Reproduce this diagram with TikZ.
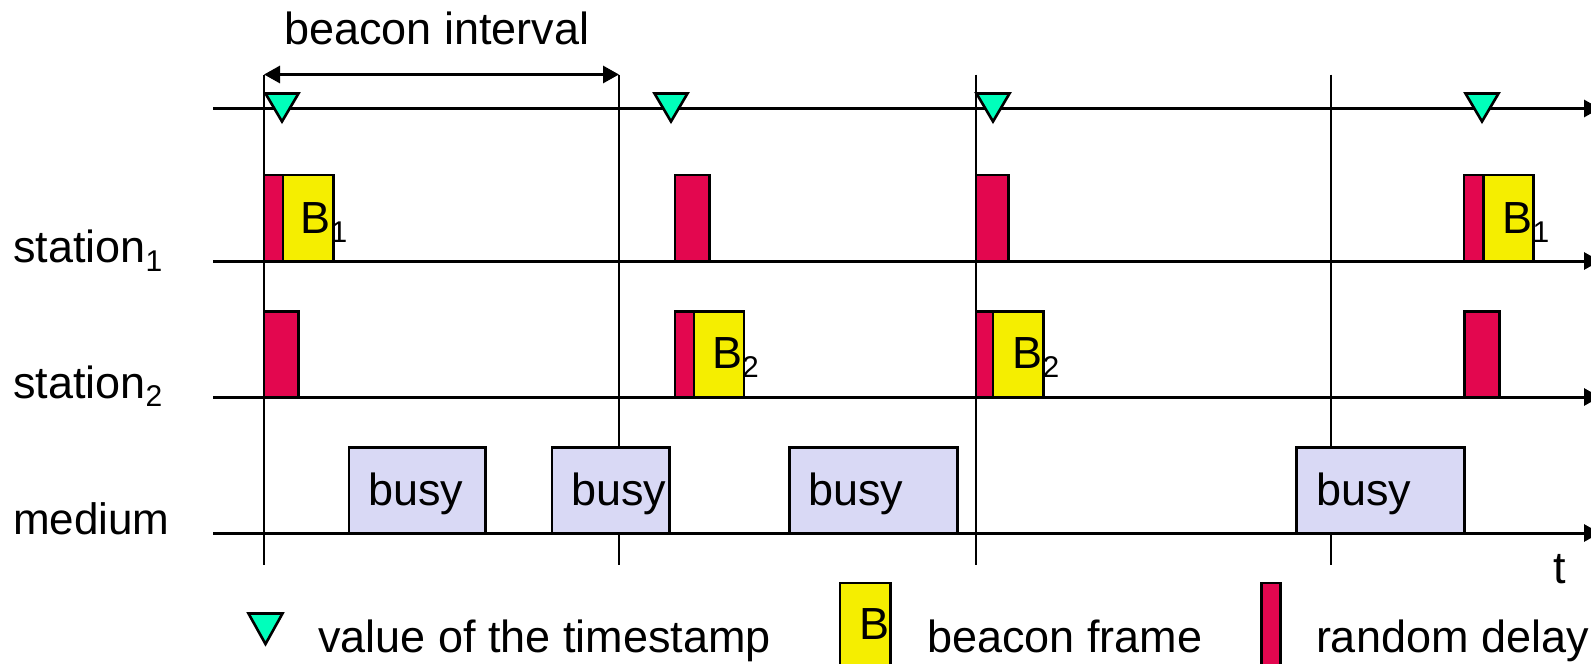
\documentclass[tikz,border=0pt]{standalone}
\usepackage{fontspec}
\setmainfont{Liberation Sans}
\usetikzlibrary{arrows.meta}
\definecolor{redd}{HTML}{E3074F}
\definecolor{yell}{HTML}{F5EE00}
\definecolor{lav}{HTML}{D9D9F5}
\definecolor{spring}{HTML}{00FFBB}
\newcommand{\bigtxt}{\fontsize{45}{50}\selectfont}
\newcommand{\subtxt}[1]{\raisebox{-8.5pt}{\fontsize{30}{30}\selectfont #1}}
\tikzset{
  axis/.style={line width=3pt,-{Triangle[length=16pt,width=17pt]}},
  vline/.style={line width=2.4pt},
  span/.style={line width=3pt,{Triangle[length=16pt,width=17pt]}-{Triangle[length=16pt,width=17pt]}},
  boxbase/.style={draw=black,line width=2.9pt,anchor=north west,inner sep=0pt,outer sep=0pt},
  delaybox/.style={boxbase,fill=redd},
  framebox/.style={boxbase,fill=yell},
  busybox/.style={boxbase,fill=lav},
  tri/.style={draw=black,fill=spring,line width=2.6pt,line join=miter},
  txt/.style={anchor=base west,inner sep=0pt,outer sep=0pt,text=black,font=\bigtxt},
}
\begin{document}
\begin{tikzpicture}[x=1pt,y=-1pt]
\useasboundingbox (0,0) rectangle (1591,664);
% axes
\foreach \n/\y in {ts/108.5,sa/261,sb/397,me/533}{
  \coordinate (\n L) at (213,\y);
  \coordinate (\n R) at (1600,\y);
  \draw[axis] (\n L) -- (\n R);
}
% vertical tick lines
\foreach \n/\x in {a/264,b/619,c/976,d/1331}{
  \coordinate (\n T) at (\x,74.5);
  \coordinate (\n B) at (\x,565);
  \draw[vline] (\n T) -- (\n B);
}
% beacon interval span
\draw[span] (aT) -- (bT);
\node[txt] (interval) at (284,44) {beacon interval};
% station 1 boxes
\node[delaybox,minimum width=19pt,minimum height=86pt] (r1) at (264,175) {};
\node[framebox,minimum width=50.5pt,minimum height=86pt] (f1) at (283,175) {};
\node[delaybox,minimum width=34.5pt,minimum height=86pt] (r2) at (675,175) {};
\node[delaybox,minimum width=32.5pt,minimum height=86pt] (r3) at (976,175) {};
\node[delaybox,minimum width=19.5pt,minimum height=86pt] (r4) at (1464,175) {};
\node[framebox,minimum width=50pt,minimum height=86pt] (f4) at (1483.5,175) {};
% station 2 boxes
\node[delaybox,minimum width=34.5pt,minimum height=85.5pt] (q1) at (264,311.5) {};
\node[delaybox,minimum width=19pt,minimum height=85.5pt] (q2) at (675,311.5) {};
\node[framebox,minimum width=50pt,minimum height=85.5pt] (g2) at (694,311.5) {};
\node[delaybox,minimum width=17pt,minimum height=85.5pt] (q3) at (976,311.5) {};
\node[framebox,minimum width=50.5pt,minimum height=85.5pt] (g3) at (993,311.5) {};
\node[delaybox,minimum width=35pt,minimum height=85.5pt] (q4) at (1464.5,311.5) {};
% busy boxes
\node[busybox,minimum width=136.5pt,minimum height=85.5pt] (m1) at (349,447.5) {};
\node[busybox,minimum width=117.5pt,minimum height=85.5pt] (m2) at (552,447.5) {};
\node[busybox,minimum width=168pt,minimum height=85.5pt] (m3) at (789.5,447.5) {};
\node[busybox,minimum width=168pt,minimum height=85.5pt] (m4) at (1296.5,447.5) {};
% timestamps
\foreach \x in {282,671,993,1482}{
  \draw[tri] (\x-16.5,93.5) -- (\x+16.5,93.5) -- (\x,121.5) -- cycle;
}
\draw[tri] (248.5,613.5) -- (282.5,613.5) -- (265.5,644) -- cycle;
% frame labels
\node[txt] (b1) at (300.5,233.5) {B\subtxt{1}};
\node[txt] (b2) at (712,368.5) {B\subtxt{2}};
\node[txt] (b3) at (1012.5,368.5) {B\subtxt{2}};
\node[txt] (b4) at (1502.5,233.5) {B\subtxt{1}};
% busy labels
\foreach \n/\x in {u1/368,u2/571,u3/808,u4/1316}{
  \node[txt] (\n) at (\x,505.5) {busy};
}
% row labels
\node[txt] (s1) at (13,262.5) {station\subtxt{1}};
\node[txt] (s2) at (13,398) {station\subtxt{2}};
\node[txt,font=\fontsize{44}{50}\selectfont] (med) at (13,534) {medium};
\node[txt] (tt) at (1553,583) {t};
% legend
\node[framebox,minimum width=50.5pt,minimum height=95pt] (lf) at (840,583) {};
\node[delaybox,minimum width=19pt,minimum height=95pt] (lr) at (1261.5,583) {};
\node[txt] (lb) at (859,639.5) {B};
\node[txt] (l1) at (318,652) {value of the timestamp};
\node[txt] (l2) at (927,652) {beacon frame};
\node[txt] (l3) at (1316,652) {random delay};
\end{tikzpicture}
\end{document}
